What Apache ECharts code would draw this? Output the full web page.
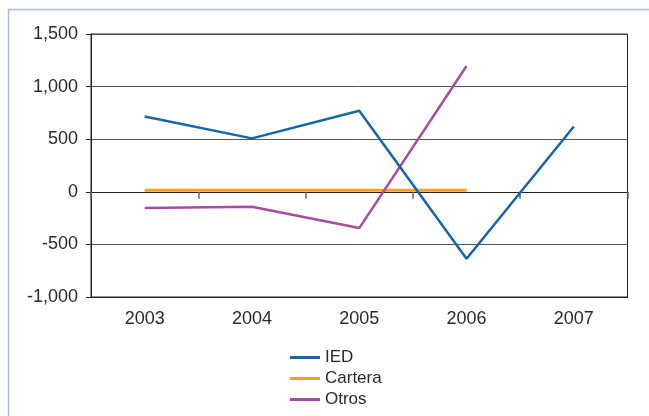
<!DOCTYPE html>
<html>
<head>
<meta charset="utf-8">
<script src="https://cdn.jsdelivr.net/npm/echarts@6/dist/echarts.min.js"></script>
<style>
  html, body { margin: 0; padding: 0; background: #fff; }
  #chart { width: 649px; height: 416px; }
</style>
</head>
<body>
<div id="chart"></div>
<script>
// Years on the category axis
const years = ['2003', '2004', '2005', '2006', '2007'];
// Flows per year (null where no value is reported)
const ied = [716, 508, 771, -636, 621];
const cartera = [15, 15, 15, 15, null];
const otros = [-155, -142, -345, 1196, null];

const FONT = '"Liberation Sans", Arial, Helvetica, sans-serif';
const fmt = v => v.toLocaleString('en-US');

const chart = echarts.init(document.getElementById('chart'), null, { renderer: 'canvas' });

chart.setOption({
  animation: false,
  backgroundColor: '#ffffff',
  graphic: [{
    type: 'rect',
    shape: { x: 8.5, y: 9.5, width: 720, height: 500 },
    style: { fill: 'none', stroke: '#a7bcdc', lineWidth: 1.5 },
    silent: true,
    z: -1
  }],
  grid: {
    left: 91, right: 21.5, top: 34, bottom: 119,
    show: true, borderColor: '#222', borderWidth: 1, backgroundColor: 'transparent'
  },
  legend: {
    orient: 'vertical',
    left: 285, top: 344,
    itemWidth: 30, itemHeight: 3, itemGap: 4,
    icon: 'rect',
    textStyle: { fontFamily: FONT, fontSize: 17, color: '#2a2a2a' },
    data: ['IED', 'Cartera', 'Otros']
  },
  xAxis: [{
    type: 'category',
    data: years,
    position: 'bottom',
    boundaryGap: true,
    axisLine: { show: true, onZero: false, lineStyle: { color: '#222', width: 1 } },
    axisTick: { show: false },
    axisLabel: { fontFamily: FONT, fontSize: 18, color: '#2a2a2a', margin: 13 },
    splitLine: { show: false }
  }, {
    type: 'category',
    data: years,
    position: 'bottom',
    boundaryGap: true,
    axisLine: { show: true, onZero: true, lineStyle: { color: '#222', width: 1 } },
    axisTick: { show: true, inside: false, length: 7, lineStyle: { color: '#666', width: 1.5 } },
    axisLabel: { show: false },
    splitLine: { show: false }
  }],
  yAxis: {
    type: 'value',
    min: -1000, max: 1500, interval: 500,
    axisLine: { show: true, lineStyle: { color: '#222', width: 1 } },
    axisTick: { show: true, length: 5, lineStyle: { color: '#222' } },
    axisLabel: { fontFamily: FONT, fontSize: 18, color: '#2a2a2a', margin: 13, formatter: fmt },
    splitLine: { show: true, lineStyle: { color: '#555', width: 1 } }
  },
  series: [{
    name: 'IED', type: 'line', data: ied,
    xAxisIndex: 0,
    symbol: 'none', connectNulls: false,
    lineStyle: { color: '#1565ae', width: 2.5 },
    itemStyle: { color: '#1565ae' },
    z: 3
  }, {
    name: 'Cartera', type: 'line', data: cartera,
    xAxisIndex: 0,
    symbol: 'none',
    lineStyle: { color: '#f7a01e', width: 3 },
    itemStyle: { color: '#f7a01e' },
    z: 2
  }, {
    name: 'Otros', type: 'line', data: otros,
    xAxisIndex: 0,
    symbol: 'none',
    lineStyle: { color: '#a64ca3', width: 2.5 },
    itemStyle: { color: '#a64ca3' },
    z: 2
  }]
});
</script>
</body>
</html>
